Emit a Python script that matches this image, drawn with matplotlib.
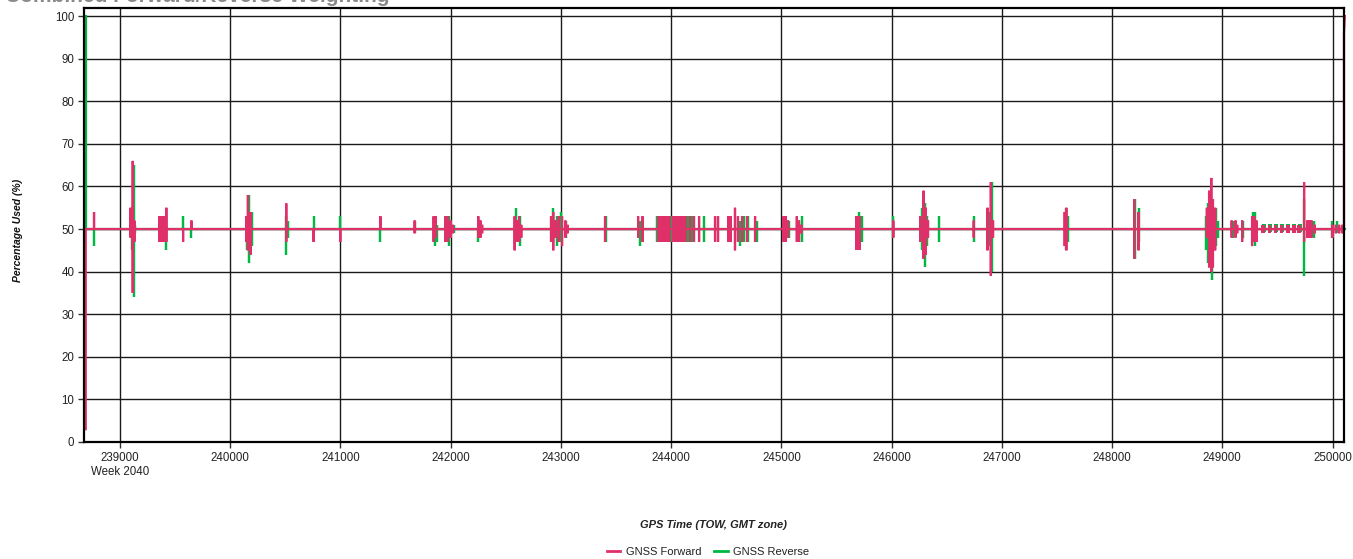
import matplotlib
matplotlib.use("Agg")
import matplotlib.pyplot as plt
from matplotlib.lines import Line2D
from matplotlib.ticker import MultipleLocator, FuncFormatter

plt.rcParams['font.family'] = ['Liberation Sans', 'DejaVu Sans']

# ---------------- data ----------------
title = "Combined Forward/Reverse Weighting"
x_label = "GPS Time (TOW, GMT zone)"
y_label = "Percentage Used (%)"
week_label = "Week 2040"
series_names = ["GNSS Forward", "GNSS Reverse"]

baseline = 50
t_start = 238689
t_last = 250104
t_end = 250112
fwd_start, fwd_last, fwd_end = 3, 96, 100
rev_start, rev_last, rev_end = 100, 50, 50

# GNSS Forward: single spikes (time, high, low)
fwd_t = [238764, 239095, 239115, 239130, 239420, 239572, 239648, 240145, 240160, 240185,
         240508, 240756, 240998, 241362, 241673, 241845, 241865, 241950, 241975, 242000,
         242020, 242250, 242270, 242285, 242580, 242600, 242620, 242640, 242910, 242930,
         242950, 242980, 243010, 243040, 243060, 243400, 243700, 243740, 244171, 244207,
         244253, 244398, 244425, 244579, 244606, 244643, 244688, 244761, 245020, 245040,
         245060, 245140, 245160, 245180, 246015, 246260, 246290, 246310, 246330, 246745,
         246870, 246900, 246920, 247570, 247585, 248200, 248240, 248860, 248880, 248900,
         248915, 248935, 249085, 249120, 249135, 249180, 249270, 249290, 249310, 249742,
         249770, 249790, 249810, 249840, 250000, 250030, 250060, 250090]
fwd_hi = [54, 55, 66, 52, 55, 50, 52, 53, 58, 54,
          56, 50, 50, 53, 52, 53, 53, 53, 53, 52,
          51, 53, 52, 51, 53, 52, 53, 51, 53, 54,
          52, 53, 53, 52, 51, 53, 53, 53, 53, 53,
          53, 53, 53, 55, 53, 53, 53, 53, 53, 53,
          52, 53, 52, 51, 52, 53, 59, 55, 52, 52,
          55, 61, 52, 54, 55, 57, 54, 55, 59, 62,
          57, 55, 52, 52, 51, 52, 53, 53, 52, 61,
          52, 52, 52, 51, 51, 51, 51, 51]
fwd_lo = [50, 48, 35, 47, 47, 47, 50, 47, 45, 44,
          47, 47, 47, 50, 49, 47, 48, 47, 47, 48,
          49, 48, 48, 49, 45, 47, 47, 48, 47, 45,
          48, 47, 46, 48, 49, 47, 48, 47, 47, 47,
          47, 47, 47, 45, 47, 47, 47, 47, 47, 47,
          48, 47, 47, 49, 48, 47, 43, 44, 48, 48,
          45, 39, 48, 46, 45, 43, 45, 48, 41, 40,
          41, 45, 48, 48, 49, 47, 46, 47, 47, 47,
          48, 48, 48, 49, 48, 49, 49, 49]

# GNSS Forward: dense bursts (start, end, high, low)
fwd_burst_start = [239345, 243872, 244010, 244507, 245665, 249354, 249410, 249465, 249520, 249575, 249630, 249680]
fwd_burst_end = [239425, 244000, 244144, 244552, 245720, 249390, 249445, 249500, 249555, 249610, 249665, 249718]
fwd_burst_hi = [53, 53, 53, 53, 53, 51, 51, 51, 51, 51, 51, 51]
fwd_burst_lo = [47, 47, 47, 47, 45, 49, 49, 49, 49, 49, 49, 49]

# GNSS Reverse: single spikes (time, high, low)
rev_t = [238764, 239105, 239127, 239140, 239420, 239572, 239648, 240150, 240170, 240200,
         240505, 240525, 240756, 240998, 241362, 241673, 241855, 241878, 241960, 241985,
         242030, 242245, 242590, 242625, 242925, 242960, 243000, 243050, 243410, 243720,
         243870, 244150, 244190, 244298, 244530, 244620, 244660, 244700, 244780, 245030,
         245070, 245190, 245700, 245730, 246015, 246280, 246300, 246320, 246427, 246745,
         246890, 246910, 247580, 247600, 248210, 248245, 248850, 248870, 248910, 248940,
         248960, 249100, 249190, 249280, 249300, 249745, 249780, 249830, 249995, 250040]
rev_hi = [50, 52, 65, 51, 52, 53, 50, 52, 58, 54,
          53, 52, 53, 53, 50, 52, 53, 51, 53, 53,
          51, 50, 55, 53, 55, 53, 54, 52, 53, 52,
          53, 53, 53, 53, 53, 52, 53, 53, 52, 53,
          52, 53, 54, 53, 53, 55, 56, 53, 53, 53,
          54, 61, 55, 53, 57, 55, 53, 56, 57, 55,
          52, 52, 52, 54, 54, 57, 52, 52, 52, 52]
rev_lo = [46, 45, 34, 49, 45, 50, 48, 45, 42, 46,
          44, 48, 50, 50, 47, 49, 46, 47, 47, 46,
          49, 47, 47, 46, 47, 46, 47, 48, 47, 46,
          47, 47, 47, 47, 47, 46, 47, 47, 47, 48,
          48, 47, 47, 47, 48, 45, 41, 46, 47, 47,
          46, 40, 45, 47, 43, 47, 45, 42, 38, 46,
          48, 48, 48, 47, 46, 39, 48, 48, 48, 49]

# GNSS Reverse: dense bursts (start, end, high, low)
rev_burst_start = [239350, 243865, 244005, 249360, 249416, 249471, 249526, 249581, 249636, 249686]
rev_burst_end = [239428, 244006, 244150, 249394, 249449, 249504, 249559, 249614, 249669, 249722]
rev_burst_hi = [52, 53, 53, 51.3, 51.3, 51.3, 51.3, 51.3, 51.3, 51.3]
rev_burst_lo = [48, 47, 47, 49.2, 49.2, 49.2, 49.2, 49.2, 49.2, 49.2]

x_major = 1000
y_major = 10

FWD_COLOR = '#E0306A'
REV_COLOR = '#00B843'


def build_path(t0, v0, times, his, los, tl, vl, t1, v1):
    xs = [t0, t0]
    ys = [v0, baseline]
    for t, h, l in sorted(zip(times, his, los)):
        xs += [t, t, t, t]
        ys += [baseline, h, l, baseline]
    xs += [tl, tl, t1]
    ys += [baseline, vl, v1]
    return xs, ys


fig = plt.figure(figsize=(13.53, 5.59), dpi=100)
ax = fig.add_axes([84 / 1353, 1 - 442 / 559, (1344 - 84) / 1353, (442 - 8) / 559])

# Reverse (green) first, forward (pink) on top
layers = [
    (REV_COLOR, (t_start, rev_start, rev_t, rev_hi, rev_lo, t_last, rev_last, t_end, rev_end),
     (rev_burst_start, rev_burst_end, rev_burst_hi, rev_burst_lo), 3),
    (FWD_COLOR, (t_start, fwd_start, fwd_t, fwd_hi, fwd_lo, t_last, fwd_last, t_end, fwd_end),
     (fwd_burst_start, fwd_burst_end, fwd_burst_hi, fwd_burst_lo), 3.5),
]
for color, args, (bs, be, bh, bl), z in layers:
    for s, e, h, l in zip(bs, be, bh, bl):
        ax.fill_between([s, e], [l, l], [h, h], color=color, lw=0, zorder=z)
    xs, ys = build_path(*args)
    ax.plot(xs, ys, color=color, lw=1.6, solid_joinstyle='miter', zorder=z, clip_on=False)

ax.set_xlim(238673, 250104)
ax.set_ylim(0, 101.9)
ax.xaxis.set_major_locator(MultipleLocator(x_major))
ax.yaxis.set_major_locator(MultipleLocator(y_major))


def xfmt(v, pos):
    s = f"{int(round(v))}"
    if int(round(v)) == 239000:
        s += "\n" + week_label
    return s


ax.xaxis.set_major_formatter(FuncFormatter(xfmt))
ax.grid(True, color='#1a1a1a', lw=1.0, zorder=1)
ax.tick_params(axis='both', direction='out', length=4, width=1, color='#333333',
               labelsize=8.3, labelcolor='#222222', pad=3)
for lab in ax.get_xticklabels():
    lab.set_linespacing(1.2)
for side in ['left', 'bottom']:
    ax.spines[side].set_linewidth(1.6)
for side in ['top', 'right']:
    ax.spines[side].set_linewidth(1.6)
for sp in ax.spines.values():
    sp.set_color('black')
    sp.set_zorder(4)

fig.text(18 / 1353, 1 - 230 / 559, y_label, rotation=90, ha='center', va='center',
         fontsize=7.5, fontweight='bold', fontstyle='italic', color='#111111')
fig.text(714 / 1353, 1 - 525 / 559, x_label, ha='center', va='center',
         fontsize=8, fontweight='bold', fontstyle='italic', color='#222222')
fig.text(5 / 1353, 1 - 2 / 559, title, ha='left', va='baseline',
         fontsize=15, fontweight='bold', color='#8a8a8a')

handles = [Line2D([0], [0], color=FWD_COLOR, lw=2),
           Line2D([0], [0], color=REV_COLOR, lw=2)]
fig.legend(handles, series_names, loc='center', bbox_to_anchor=(708 / 1353, 1 - 552 / 559),
           ncol=2, frameon=False, fontsize=8, handlelength=1.2, handletextpad=0.5,
           columnspacing=1.2, labelcolor='#222222')

fig.savefig("out.png", dpi=100)
